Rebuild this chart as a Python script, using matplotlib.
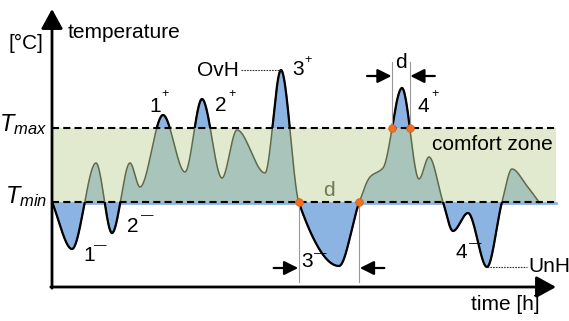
import numpy as np
import matplotlib
matplotlib.use('Agg')
import matplotlib.pyplot as plt
from matplotlib.patches import Rectangle

plt.rcParams['font.family'] = ['Liberation Sans', 'DejaVu Sans']
plt.rcParams['mathtext.fontset'] = 'custom'
plt.rcParams['mathtext.rm'] = 'Liberation Sans'
plt.rcParams['mathtext.it'] = 'Liberation Sans:italic'

# ---- schematic data (time [h], temperature) ----
t_knots = [0.0, 2.0, 4.4, 6.0, 7.8, 8.8, 11.1, 13.3, 15.0, 17.0, 18.5, 21.3,
           22.9, 24.7, 28.7, 30.7, 31.8, 33.1, 35.0, 36.7, 37.7, 39.1, 40.1,
           41.6, 43.5, 45.0, 46.0, 47.5, 48.7]
T_knots = [8.5, 3.8, 12.4, 5.4, 12.4, 10.0, 17.2, 11.5, 18.8, 10.9, 15.7, 11.4,
           21.7, 8.4, 2.1, 8.4, 11.0, 11.9, 19.9, 10.8, 13.0, 8.5, 5.6,
           7.4, 2.0, 8.5, 11.8, 10.1, 8.5]
T_min = 8.5
T_max = 15.9
t_end = 50.4

c_zone = '#e1eacf'
c_in = '#a9c4ba'
c_blue = '#8cb4e2'
c_olive = '#5e6a4b'
c_orange = '#f36f21'


def pchip(xk, yk, xs):
    """monotone cubic through the knots"""
    xk = np.asarray(xk, float)
    yk = np.asarray(yk, float)
    h = np.diff(xk)
    d = np.diff(yk) / h
    m = np.zeros_like(yk)
    for k in range(1, len(xk) - 1):
        if d[k-1] * d[k] > 0:
            w1 = 2*h[k] + h[k-1]
            w2 = h[k] + 2*h[k-1]
            m[k] = (w1 + w2) / (w1/d[k-1] + w2/d[k])
    m[0], m[-1] = d[0], d[-1]
    i = np.clip(np.searchsorted(xk, xs) - 1, 0, len(h) - 1)
    s = (xs - xk[i]) / h[i]
    h00 = 2*s**3 - 3*s**2 + 1
    h10 = s**3 - 2*s**2 + s
    h01 = -2*s**3 + 3*s**2
    h11 = s**3 - s**2
    return h00*yk[i] + h10*h[i]*m[i] + h01*yk[i+1] + h11*h[i]*m[i+1]


def crossings(t, y, level):
    idx = np.where(np.diff(np.sign(y - level)) != 0)[0]
    return t[idx] + (level - y[idx]) * (t[idx+1] - t[idx]) / (y[idx+1] - y[idx])


t = np.linspace(t_knots[0], t_knots[-1], 3000)
T = pchip(t_knots, T_knots, t)

fig = plt.figure(figsize=(5.69, 3.21), dpi=100)
ax = fig.add_axes([0, 0, 1, 1])
ax.set_xlim(-5.2, 51.7)
ax.set_ylim(-3.4, 28.7)
ax.axis('off')

# comfort zone and fills
ax.fill_between([0, t_end], T_min, T_max, color=c_zone, lw=0, zorder=1)
ax.fill_between(t, T_min, np.clip(T, T_min, T_max), color=c_in, lw=0, zorder=2)
ax.fill_between(t, T_max, np.maximum(T, T_max), color=c_blue, lw=0, zorder=2)
ax.fill_between(t, np.minimum(T, T_min), T_min, color=c_blue, lw=0, zorder=2)
ax.plot([0, t_end], [T_min - 0.12]*2, color=c_blue, lw=2.0, zorder=3)

# curve: olive inside zone, black outside
ax.plot(t, T, color=c_olive, lw=1.1, zorder=4)
for y0, hgt in [(T_max, 20), (T_min - 20, 20)]:
    ln, = ax.plot(t, T, color='k', lw=1.6, zorder=5)
    ln.set_clip_path(Rectangle((-10, y0), 80, hgt, transform=ax.transData))

# limits
for lev in (T_max, T_min):
    ax.plot([0, t_end], [lev, lev], color='k', lw=1.5,
            linestyle=(0, (3.4, 2.0)), zorder=6)

# axes arrows
ax_kw = dict(arrowstyle='-|>,head_length=1.0,head_width=0.55',
             mutation_scale=12, lw=2.0, color='k', shrinkA=0, shrinkB=0)
ax.annotate('', xy=(0, 27.8), xytext=(0, -0.12), arrowprops=ax_kw, zorder=7)
ax.annotate('', xy=(50.4, 0), xytext=(-0.12, 0), arrowprops=ax_kw, zorder=7)

fs = 15
ax.text(1.6, 25.4, 'temperature', fontsize=fs, va='center', ha='left')
ax.text(-4.4, 24.4, '[°C]', fontsize=fs, va='center', ha='left')
ax.text(-0.5, 15.6, r'$T_{max}$', fontsize=17, ha='right', va='baseline')
ax.text(-0.5, 8.4, r'$T_{min}$', fontsize=17, ha='right', va='baseline')
ax.text(38.0, 14.2, 'comfort zone', fontsize=fs, va='center', ha='left')
ax.text(41.9, -1.7, 'time [h]', fontsize=fs, va='center', ha='left')

# event labels: (main x, main y, text, sup x, sup y, sup)
labels = [(9.7, 17.5, '1', 10.9, 19.3, '+'),
          (16.3, 17.6, '2', 17.6, 19.3, '+'),
          (24.0, 21.2, '3', 25.2, 22.7, '+'),
          (36.6, 17.5, '4', 37.9, 19.3, '+'),
          (3.1, 2.6, '1', 4.2, 4.1, '\u2014'),
          (7.5, 5.5, '2', 8.9, 7.1, '\u2014'),
          (24.9, 2.0, '3', 26.2, 3.3, '\u2014'),
          (40.4, 2.9, '4', 41.7, 4.3, '\u2014')]
for x0, y0, s, x1, y1, sup in labels:
    ax.text(x0, y0, s, fontsize=fs, ha='left', va='baseline', zorder=8)
    ax.text(x1, y1, sup, fontsize=9, ha='left', va='center', zorder=8)

# OvH / UnH markers
i_hi = np.argmax(T)
i_lo = np.argmin(T)
ax.plot([18.9, t[i_hi]], [T[i_hi]]*2, color='#333333', lw=0.8,
        linestyle=(0, (1.5, 1.0)), zorder=6)
ax.text(14.5, T[i_hi], 'OvH', fontsize=fs, ha='left', va='center')
ax.plot([t[i_lo], 47.5], [T[i_lo]]*2, color='#333333', lw=0.8,
        linestyle=(0, (1.5, 1.0)), zorder=6)
ax.text(47.6, T[i_lo], 'UnH', fontsize=fs, ha='left', va='center')

# duration d for 3- and 4+
lo_x = crossings(t, T, T_min)
hi_x = crossings(t, T, T_max)
a3, b3 = lo_x[(lo_x > 24) & (lo_x < 31)][:2]
a4, b4 = hi_x[(hi_x > 33) & (hi_x < 37)][:2]

arrow_kw = dict(arrowstyle='-|>,head_length=0.7,head_width=0.35',
                mutation_scale=12, lw=1.6, color='k', shrinkA=0, shrinkB=0)
for xa, xb, y_lo, y_hi, ya, y_dot in [(a3, b3, 0.5, T_min, 1.9, T_min),
                                      (a4, b4, T_max, 22.5, 21.1, T_max)]:
    ax.plot([xa, xa], [y_lo, y_hi], color='#999999', lw=0.8, zorder=6)
    ax.plot([xb, xb], [y_lo, y_hi], color='#999999', lw=0.8, zorder=6)
    ax.annotate('', xy=(xa - 0.05, ya), xytext=(xa - 2.5, ya),
                arrowprops=arrow_kw, zorder=7)
    ax.annotate('', xy=(xb + 0.05, ya), xytext=(xb + 2.5, ya),
                arrowprops=arrow_kw, zorder=7)
    ax.plot([xa, xb], [y_dot, y_dot], 'o', color=c_orange, ms=5.5,
            mec='#d85a10', mew=0.5, zorder=9)

ax.text((a3 + b3) / 2, 9.7, 'd', fontsize=fs, color='#6b7a52',
        ha='center', va='center', zorder=8)
ax.text((a4 + b4) / 2, 22.5, 'd', fontsize=fs, ha='center', va='center')

fig.savefig('out.png', dpi=100)
